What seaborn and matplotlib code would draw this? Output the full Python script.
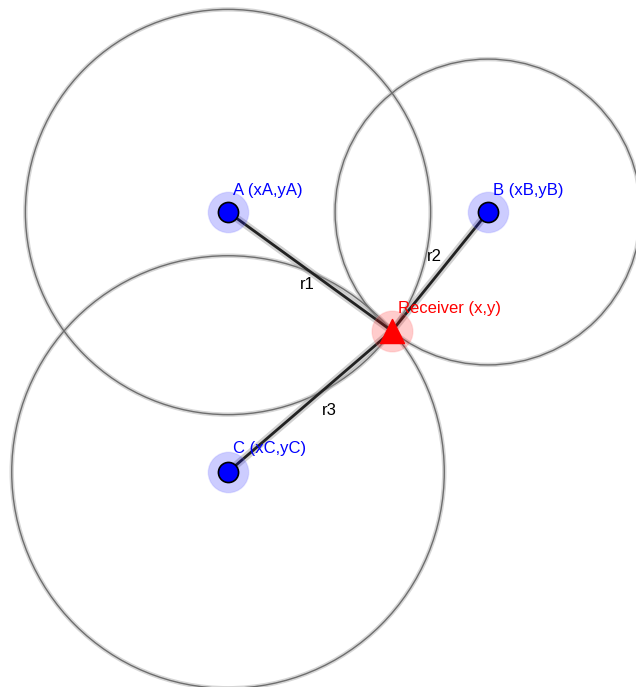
import numpy as np
import pandas as pd
import matplotlib.pyplot as plt
import matplotlib.patches as mpatches
import seaborn as sns

# === Data (screen units, y downwards) ===
anchor_names = ["A", "B", "C"]
anchor_x = [228, 488, 228]
anchor_y = [212, 212, 472]
anchor_labels = ["A (xA,yA)", "B (xB,yB)", "C (xC,yC)"]
receiver_x, receiver_y = 392, 331
receiver_label = "Receiver (x,y)"
range_labels = ["r1", "r2", "r3"]
range_label_pos = [(300, 289), (427, 261), (322, 415)]
anchor_label_pos = [(233, 195), (493, 195), (233, 453)]

sns.set_style("white")
plt.rcParams['font.family'] = ['Liberation Sans', 'DejaVu Sans']

df = pd.DataFrame({"name": anchor_names, "x": anchor_x, "y": anchor_y})
radii = np.hypot(df.x - receiver_x, df.y - receiver_y)

fig = plt.figure(figsize=(6.36, 6.87), dpi=100)
ax = fig.add_axes([0, 0, 1, 1])

# === Range circles ===
for (x, y), r in zip(zip(df.x, df.y), radii):
    ax.add_patch(mpatches.Circle((x, y), r, fill=False, ec="#bbbbbb", lw=3.2, alpha=0.6, zorder=1))
    ax.add_patch(mpatches.Circle((x, y), r, fill=False, ec="#6e6e6e", lw=1.0, zorder=2))

# === Lines anchor -> receiver ===
for x, y in zip(df.x, df.y):
    ax.plot([x, receiver_x], [y, receiver_y], color="#999999", lw=5.5, alpha=0.45,
            solid_capstyle="round", zorder=3)
    ax.plot([x, receiver_x], [y, receiver_y], color="#222222", lw=2.0, zorder=4)

# === Anchors ===
sns.scatterplot(data=df, x="x", y="y", s=850, color="#0000ff", alpha=0.2,
                edgecolor="#8080ff", linewidth=1, ax=ax, zorder=5, legend=False)
sns.scatterplot(data=df, x="x", y="y", s=210, color="#0000ff",
                edgecolor="black", linewidth=1.2, ax=ax, zorder=6, legend=False)

# === Receiver ===
ax.scatter([receiver_x], [receiver_y], s=870, color="#ff0000", alpha=0.2,
           edgecolor="#ff8080", linewidth=1, zorder=5)
ax.scatter([receiver_x], [receiver_y], s=300, marker="^", color="#ff0000", zorder=6)

# === Labels ===
for lab, (tx, ty) in zip(anchor_labels, anchor_label_pos):
    ax.text(tx, ty, lab, color="#0000ff", fontsize=12, va="baseline", ha="left", zorder=7)
ax.text(398, 313, receiver_label, color="#ff0000", fontsize=12, va="baseline", ha="left", zorder=7)
for lab, (tx, ty) in zip(range_labels, range_label_pos):
    ax.text(tx, ty, lab, color="black", fontsize=12, va="baseline", ha="left", zorder=7)

ax.set_xlim(0, 636)
ax.set_ylim(687, 0)
ax.set_aspect("equal")
ax.axis("off")

fig.savefig("out.png", dpi=100)
